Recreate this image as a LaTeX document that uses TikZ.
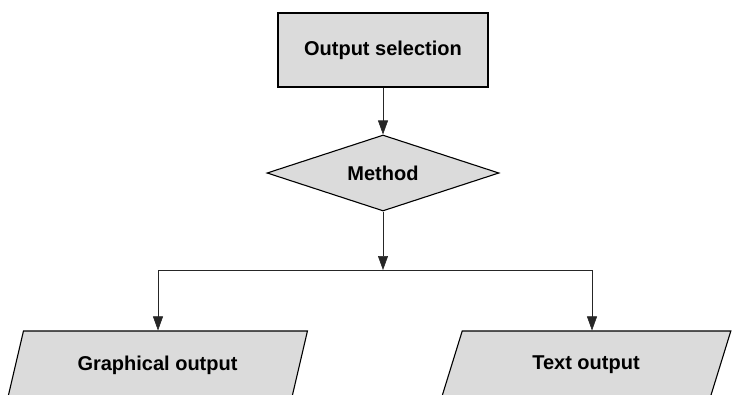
\documentclass[tikz,border=0pt]{standalone}
\usepackage{fontspec}
\setmainfont{Liberation Sans}
\usetikzlibrary{shapes.geometric,arrows.meta}

\tikzset{
	flowbox/.style={draw=black, line width=1.1pt, fill=black!14, inner sep=0pt,
		font=\fontsize{20}{23}\selectfont\bfseries},
	procbox/.style={flowbox, rectangle, minimum width=210pt, minimum height=74pt},
	decbox/.style={flowbox, diamond, aspect=3.05, minimum width=232pt, minimum height=76pt},
	iobox/.style={flowbox, trapezium, trapezium left angle=63, trapezium right angle=117,
		trapezium stretches=true, minimum height=68pt},
	conn/.style={draw=black!85, line width=0.6pt, -{Triangle[width=10pt,length=14pt]}},
	wire/.style={draw=black!85, line width=0.6pt},
}

\begin{document}
\begin{tikzpicture}[x=1pt, y=-1pt]
		\useasboundingbox (0,0) rectangle (733,394);
		%selection and decision
		\node[procbox] (sel) at (383,50) {Output selection};
		\node[decbox] (meth) at (383,173) {Method};
		%outputs, partly cut off at the bottom
		\node[iobox, minimum width=300pt] (gout) at (157.5,365) {Graphical output};
		\node[iobox, minimum width=290pt] (tout) at (586,365) {Text output};

		%branch line
		\coordinate (split) at (383,270);
		\coordinate (lsplit) at (158,270);
		\coordinate (rsplit) at (592,270);

		\draw[conn] (sel) -- (meth);
		\draw[conn] (meth) -- (split);
		\draw[wire] (lsplit) -- (rsplit);
		\draw[conn] (lsplit) -- (lsplit |- gout.north);
		\draw[conn] (rsplit) -- (rsplit |- tout.north);
\end{tikzpicture}
\end{document}
